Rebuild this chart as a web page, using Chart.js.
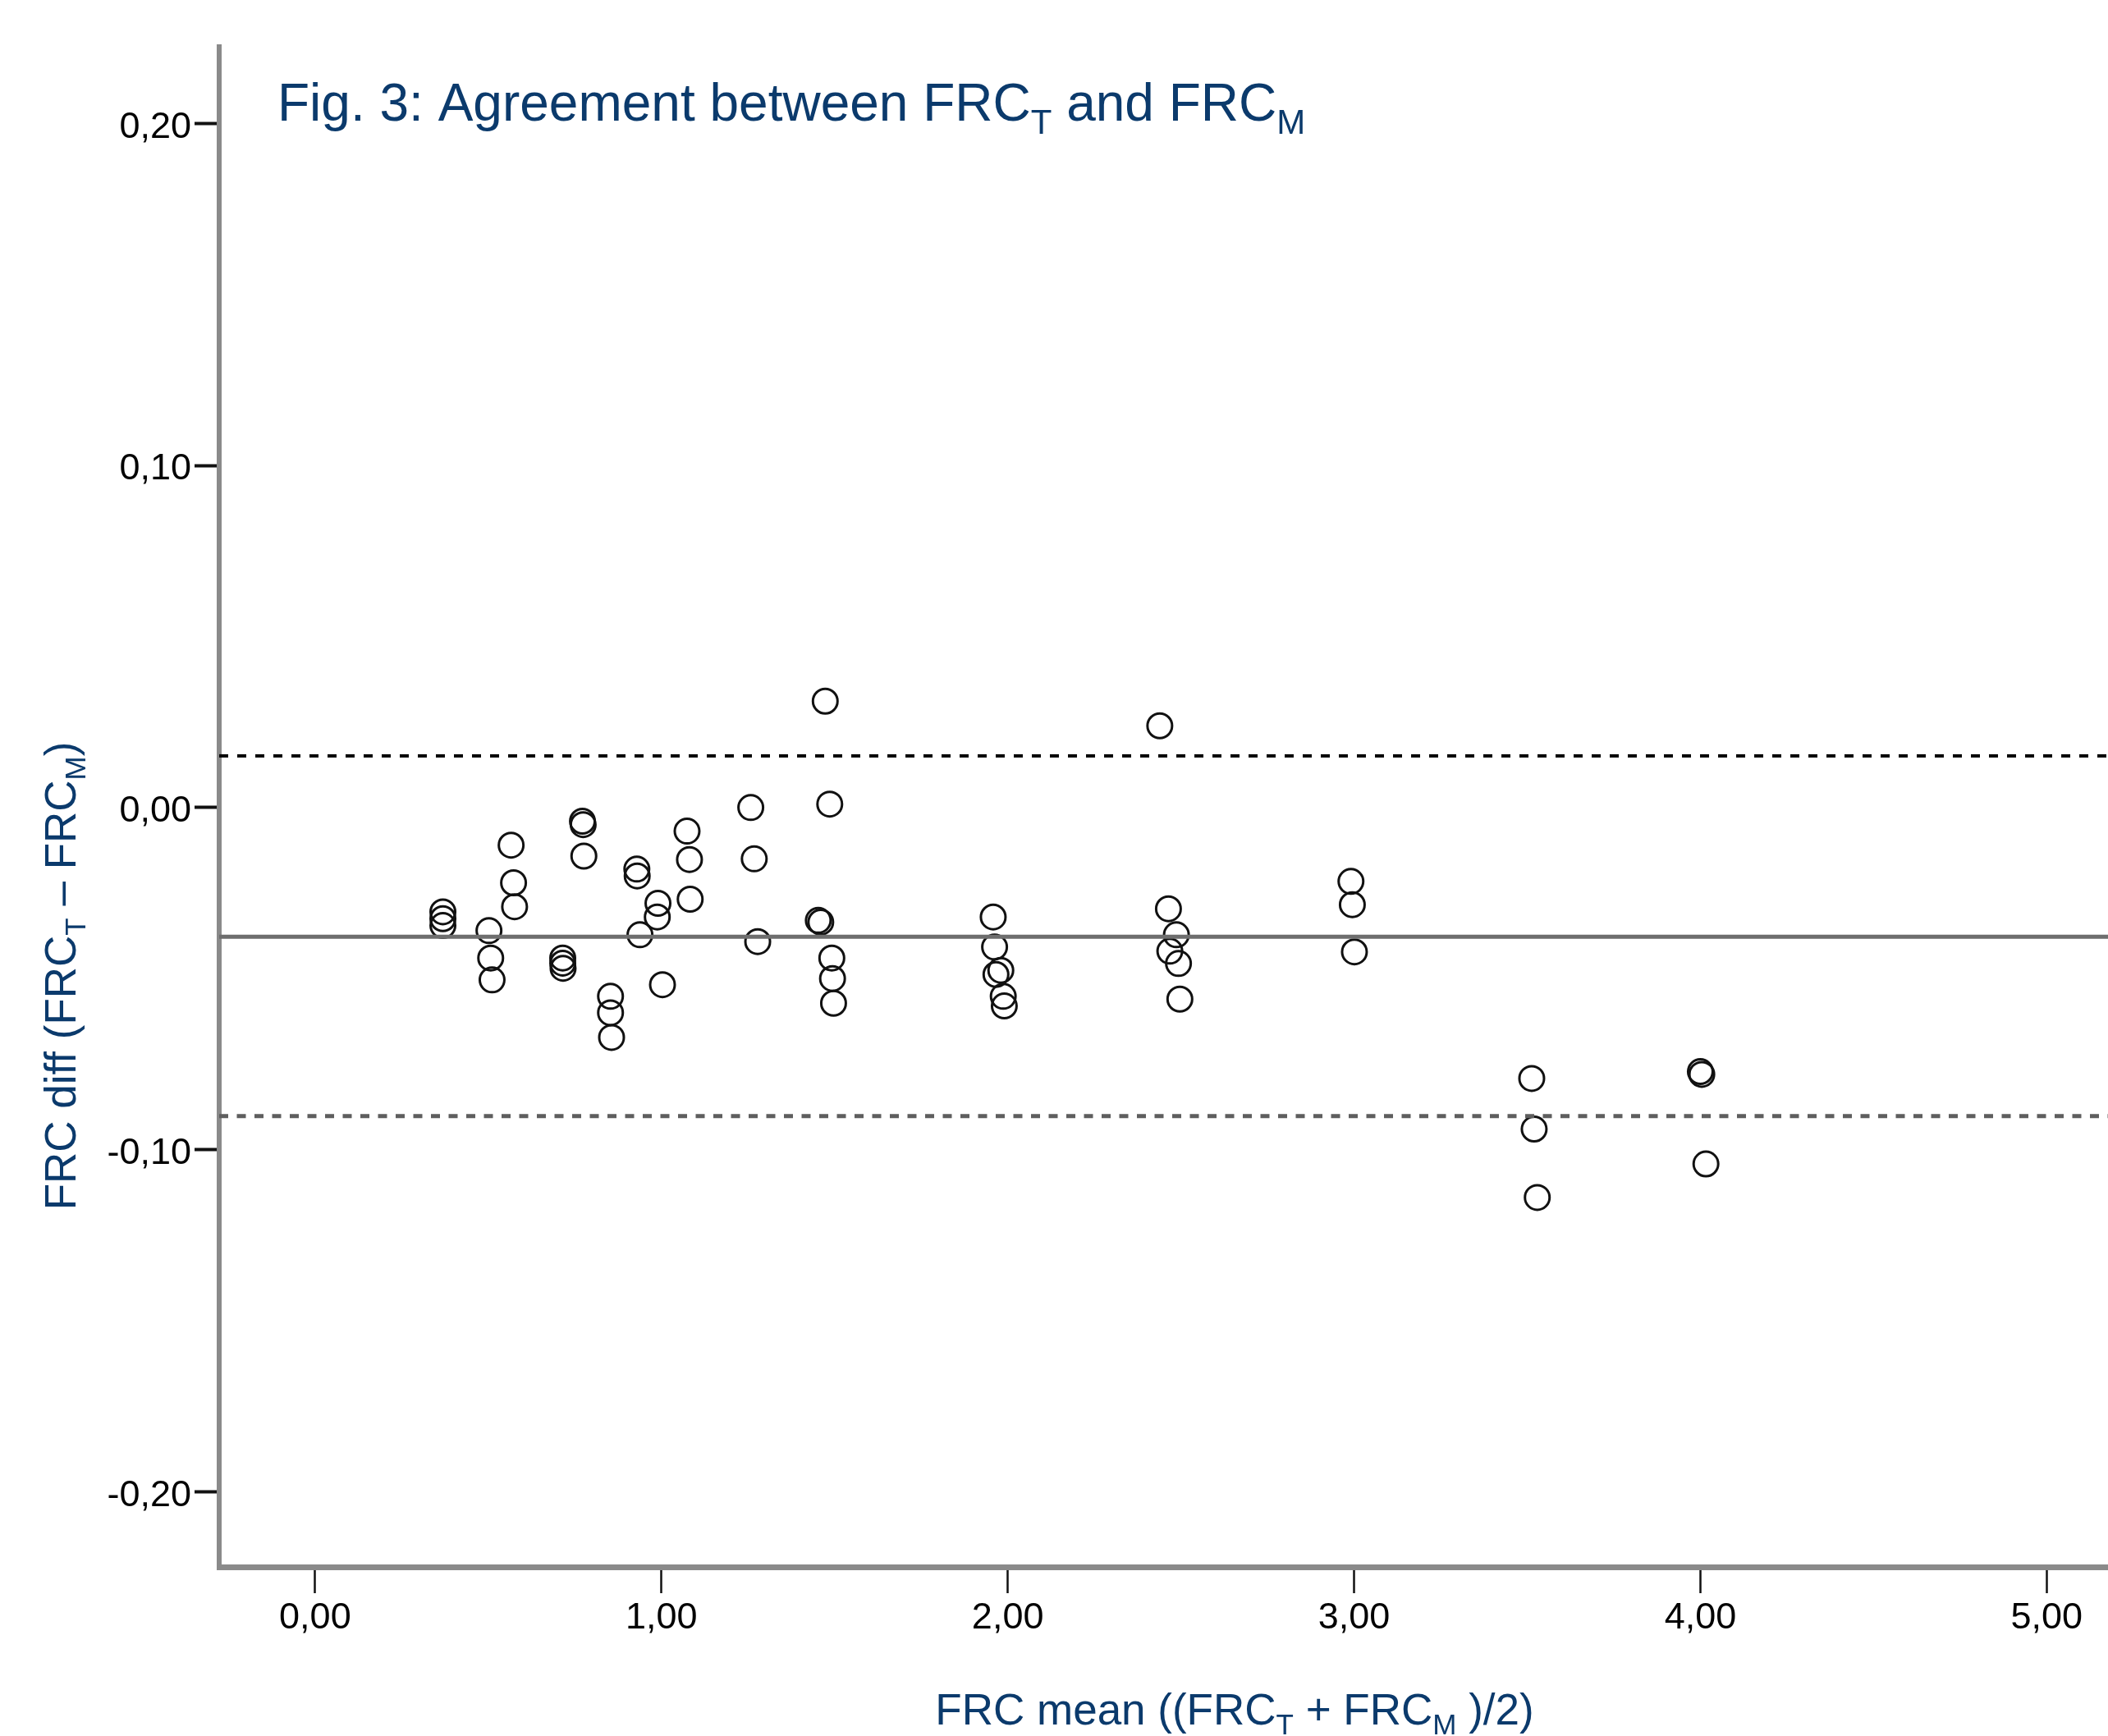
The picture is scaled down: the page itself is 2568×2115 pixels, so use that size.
<!DOCTYPE html>
<html>
<head>
<meta charset="utf-8">
<script src="https://cdn.jsdelivr.net/npm/chart.js@4.4.1/dist/chart.umd.min.js"></script>
<style>
  html, body { margin: 0; padding: 0; background: #fff; }
  canvas { display: block; }
</style>
</head>
<body>
<canvas id="chart" width="2568" height="2115"></canvas>
<script>
// Bland-Altman plot: FRC_T vs FRC_M

// --- Data ---
var frcMean = [
  0.369, 0.369, 0.369, 0.502, 0.507, 0.511, 0.566, 0.573, 0.576,
  0.715, 0.715, 0.716, 0.772, 0.774, 0.776, 0.853, 0.853, 0.856,
  0.929, 0.930, 0.938, 0.990, 0.988, 1.003, 1.074, 1.081, 1.083,
  1.258, 1.268, 1.278, 1.453, 1.460, 1.473, 1.486, 1.492, 1.494, 1.497,
  1.958, 1.962, 1.966, 1.980, 1.987, 1.990,
  2.439, 2.464, 2.487, 2.468, 2.493, 2.497,
  2.991, 2.995, 3.001,
  3.513, 3.520, 3.529,
  4.000, 4.004, 4.016
];
var frcDiff = [
  -0.0305, -0.0325, -0.0345, -0.036, -0.044, -0.0504, -0.011, -0.022, -0.029,
  -0.044, -0.0455, -0.047, -0.004, -0.005, -0.0142, -0.0552, -0.060, -0.0672,
  -0.018, -0.020, -0.0372, -0.028, -0.032, -0.0518, -0.0069, -0.0152, -0.0268,
  0.000, -0.015, -0.0392, -0.033, -0.0335, 0.0311, 0.001, -0.044, -0.050, -0.0572,
  -0.032, -0.0408, -0.0488, -0.0476, -0.0552, -0.058,
  0.0239, -0.0296, -0.0372, -0.042, -0.0456, -0.056,
  -0.0216, -0.0284, -0.0422,
  -0.0792, -0.094, -0.114,
  -0.0772, -0.0780, -0.1042
];

var meanDiff = -0.0378;
var upperLoA = 0.0151;
var lowerLoA = -0.0902;

var xTicks = [0, 1, 2, 3, 4, 5];
var yTicks = [-0.20, -0.10, 0.00, 0.10, 0.20];

var X_MIN = -0.277, X_MAX = 5.177;
var Y_MIN = -0.222, Y_MAX = 0.2224;

var BLUE = "#0b3a6c";
var FONT = '"Liberation Sans", Arial, sans-serif';

// --- Helpers ---

function fmtComma(v) {
  return v.toFixed(2).replace(".", ",");
}

function hLine(y) {
  return [{ x: X_MIN, y: y }, { x: X_MAX, y: y }];
}

// text with subscripts: parts = [[text, isSub], ...]
function richWidth(ctx, parts, size, subSize) {
  var w = 0;
  parts.forEach(function(p) {
    ctx.font = (p[1] ? subSize : size) + "px " + FONT;
    w += ctx.measureText(p[0]).width;
  });
  return w;
}

function drawRich(ctx, parts, x, y, size, subSize, subShift) {
  var cx = x;
  parts.forEach(function(p) {
    ctx.font = (p[1] ? subSize : size) + "px " + FONT;
    ctx.fillText(p[0], cx, y + (p[1] ? subShift : 0));
    cx += ctx.measureText(p[0]).width;
  });
}

var titlePlugin = {
  id: "richTitles",
  afterDraw: function(chart) {
    var ctx = chart.ctx;
    ctx.save();
    ctx.fillStyle = BLUE;
    ctx.textBaseline = "alphabetic";
    ctx.textAlign = "left";

    // figure title
    drawRich(ctx, [["Fig. 3: Agreement between FRC", false], ["T", true], [" and FRC", false], ["M", true]],
      338, 147, 64, 42, 16);

    // x axis title
    var xParts = [["FRC mean ((FRC", false], ["T", true], [" + FRC", false], ["M", true], [" )/2)", false]];
    var xw = richWidth(ctx, xParts, 53, 35);
    drawRich(ctx, xParts, 1504 - xw / 2, 2101, 53, 35, 12);

    // y axis title (rotated)
    var yParts = [["FRC diff (FRC", false], ["T", true], [" \u2013 FRC", false], ["M", true], [")", false]];
    var yw = richWidth(ctx, yParts, 53, 35);
    ctx.translate(92, 1189);
    ctx.rotate(-Math.PI / 2);
    drawRich(ctx, yParts, -yw / 2, 0, 53, 35, 12);
    ctx.restore();
  }
};

// --- Chart ---

var points = frcMean.map(function(x, i) { return { x: x, y: frcDiff[i] }; });

new Chart(document.getElementById("chart"), {
  type: "scatter",
  data: {
    datasets: [
      {
        type: "line",
        data: hLine(meanDiff),
        borderColor: "#6e6e6e",
        borderWidth: 5,
        pointRadius: 0,
        fill: false
      },
      {
        type: "line",
        data: hLine(upperLoA),
        borderColor: "#000",
        borderWidth: 4,
        borderDash: [11, 11],
        pointRadius: 0,
        fill: false
      },
      {
        type: "line",
        data: hLine(lowerLoA),
        borderColor: "#5e5e5e",
        borderWidth: 5,
        borderDash: [11, 10.5],
        pointRadius: 0,
        fill: false
      },
      {
        data: points,
        pointStyle: "circle",
        pointRadius: 15,
        pointBorderWidth: 3,
        pointBorderColor: "#111",
        pointBackgroundColor: "rgba(0,0,0,0)"
      }
    ]
  },
  options: {
    responsive: false,
    devicePixelRatio: 1,
    animation: false,
    layout: { autoPadding: false, padding: { top: 57, left: 0, right: 0, bottom: 0 } },
    plugins: {
      legend: { display: false },
      tooltip: { enabled: false },
      title: { display: false }
    },
    scales: {
      x: {
        type: "linear",
        position: "bottom",
        min: X_MIN,
        max: X_MAX,
        afterFit: function(scale) {
          scale.height = 206;
          scale.paddingLeft = 0;
          scale.paddingRight = 0;
        },
        afterBuildTicks: function(scale) {
          scale.ticks = xTicks.map(function(v) { return { value: v }; });
        },
        border: { display: true, color: "#8a8a8a", width: 7 },
        grid: { drawOnChartArea: false, drawTicks: true, tickLength: 32, tickWidth: 2.5, tickColor: "#111" },
        ticks: {
          color: "#000",
          padding: 4,
          font: { family: FONT, size: 45 },
          maxRotation: 0,
          callback: function(v) { return fmtComma(v); }
        }
      },
      y: {
        type: "linear",
        min: Y_MIN,
        max: Y_MAX,
        afterFit: function(scale) {
          scale.width = 267;
          scale.paddingTop = 0;
          scale.paddingBottom = 0;
        },
        afterBuildTicks: function(scale) {
          scale.ticks = yTicks.map(function(v) { return { value: v }; });
        },
        border: { display: true, color: "#8a8a8a", width: 6 },
        grid: { drawOnChartArea: false, drawTicks: true, tickLength: 30, tickWidth: 4, tickColor: "#111" },
        ticks: {
          color: "#000",
          padding: 4,
          labelOffset: 5,
          font: { family: FONT, size: 45 },
          callback: function(v) { return fmtComma(v); }
        }
      }
    }
  },
  plugins: [titlePlugin]
});
</script>
</body>
</html>
